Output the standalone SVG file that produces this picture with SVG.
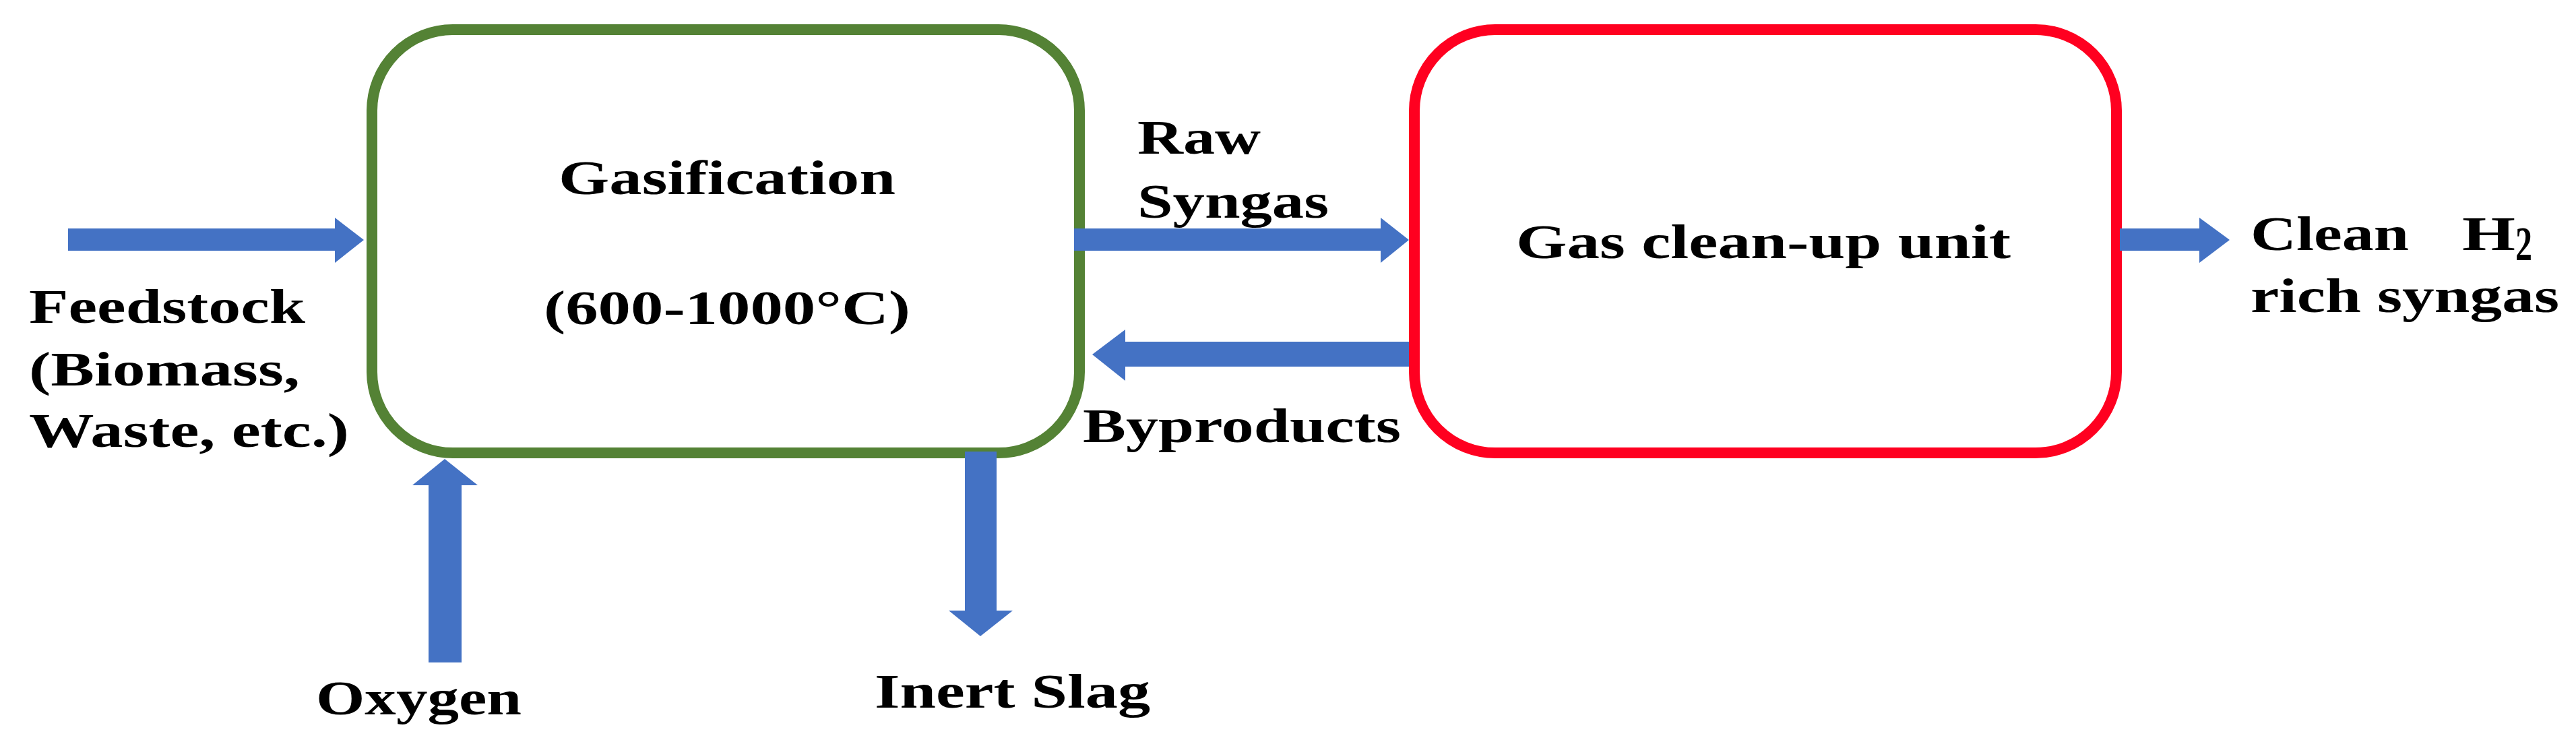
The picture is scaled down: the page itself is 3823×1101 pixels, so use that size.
<svg xmlns="http://www.w3.org/2000/svg" width="3823" height="1101" viewBox="0 0 3823 1101">
<style>
text{font-family:"Liberation Serif","Times New Roman",serif;font-weight:bold;font-size:72px;fill:#000}
.ar{fill:#4472C4}
</style>
<rect width="3823" height="1101" fill="#fff"/>
<g id="gasification">
<rect x="552" y="44" width="1050" height="628" rx="120" fill="none" stroke="#548235" stroke-width="16"/>
<text x="829" y="288" textLength="500" lengthAdjust="spacingAndGlyphs">Gasification</text>
<text x="807" y="481" textLength="544" lengthAdjust="spacingAndGlyphs">(600-1000°C)</text>
</g>
<g id="cleanup">
<rect x="2099" y="44" width="1042" height="628" rx="120" fill="none" stroke="#FF0020" stroke-width="16"/>
<text x="2250" y="383" textLength="734" lengthAdjust="spacingAndGlyphs">Gas clean-up unit</text>
</g>
<g id="labels">
<text x="43" y="479" textLength="410" lengthAdjust="spacingAndGlyphs">Feedstock</text>
<text x="43" y="572" textLength="402" lengthAdjust="spacingAndGlyphs">(Biomass,</text>
<text x="43" y="663" textLength="475" lengthAdjust="spacingAndGlyphs">Waste, etc.)</text>
<text x="1688" y="228" textLength="183" lengthAdjust="spacingAndGlyphs">Raw</text>
<text x="1688" y="323" textLength="284" lengthAdjust="spacingAndGlyphs">Syngas</text>
<text x="1607" y="656" textLength="472" lengthAdjust="spacingAndGlyphs">Byproducts</text>
<text x="469" y="1060" textLength="305" lengthAdjust="spacingAndGlyphs">Oxygen</text>
<text x="1298" y="1050" textLength="409" lengthAdjust="spacingAndGlyphs">Inert Slag</text>
<text x="3340" y="371" textLength="235" lengthAdjust="spacingAndGlyphs">Clean</text>
<text x="3654" y="371" textLength="79" lengthAdjust="spacingAndGlyphs">H</text>
<text x="3733" y="386" font-size="46" textLength="25" lengthAdjust="spacingAndGlyphs">2</text>
<text x="3340" y="463" textLength="458" lengthAdjust="spacingAndGlyphs">rich syngas</text>
</g>
<g id="connectors">
<polygon class="ar" points="101,339 497,339 497,323 540,356 497,390 497,372 101,372"/>
<polygon class="ar" points="1594,339 2049,339 2049,323 2091,356 2049,390 2049,372 1594,372"/>
<polygon class="ar" points="2091,507 1670,507 1670,489 1621,526 1670,565 1670,544 2091,544"/>
<polygon class="ar" points="3146,339 3264,339 3264,323 3309,356 3264,390 3264,372 3146,372"/>
<polygon class="ar" points="636,983 636,720 612,720 660,681 709,720 685,720 685,983"/>
<polygon class="ar" points="1432,670 1479,670 1479,906 1503,906 1455,944 1408,906 1432,906"/>
</g>
</svg>
